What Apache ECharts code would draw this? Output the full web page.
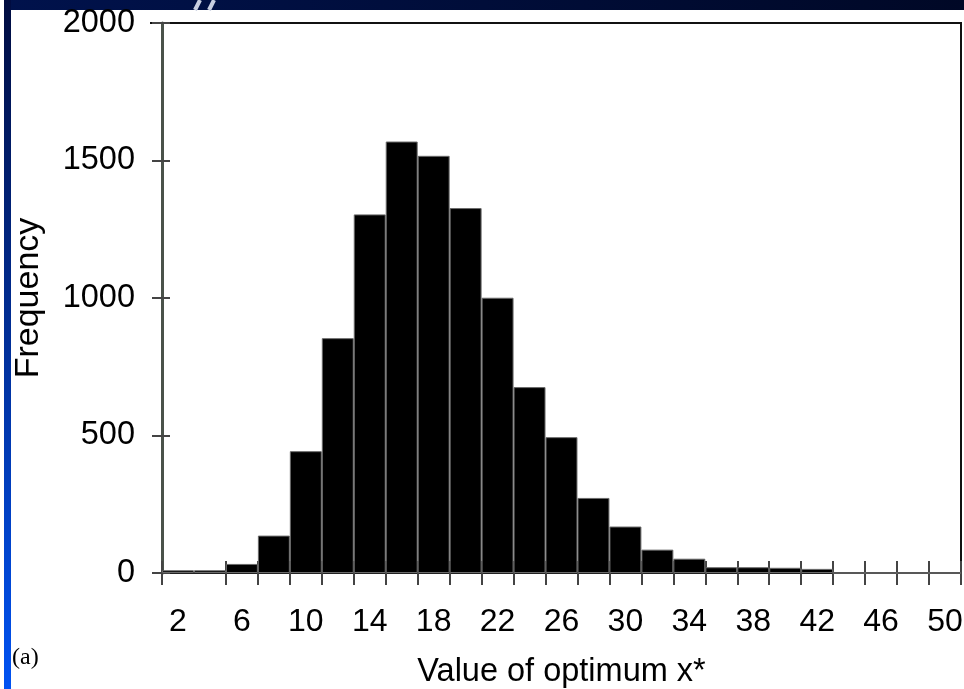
<!DOCTYPE html>
<html>
<head>
<meta charset="utf-8">
<script src="https://cdn.jsdelivr.net/npm/echarts@6/dist/echarts.min.js"></script>
<style>
  html, body { margin: 0; padding: 0; background: #fff; }
  #chart { width: 964px; height: 689px; }
</style>
</head>
<body>
<div id="chart"></div>
<script>
// histogram bins (centre of each 2-wide bin)
var bins = ['2','4','6','8','10','12','14','16','18','20','22','24','26','28','30','32','34','36','38','40','42','44','46','48','50'];
// frequency per bin
var freq = [10, 10, 33, 136, 443, 854, 1304, 1569, 1517, 1327, 1001, 676, 494, 273, 169, 85, 52, 21, 21, 19, 15, 0, 0, 0, 0];
var yTicks = [0, 500, 1000, 1500, 2000];

var font = 'Liberation Sans, Arial, sans-serif';
var chart = echarts.init(document.getElementById('chart'));

// the one tick that is missing in the original (between 2 and 4)
function tickShown(index) { return index !== 1; }

var option = {
    backgroundColor: '#fff',
    animation: false,
    grid: {
        left: 162, right: 3, top: 23, bottom: 116,
        outerBoundsMode: 'none',
        containLabel: false,
        show: true, borderColor: '#111', borderWidth: 2
    },
    xAxis: [{
        type: 'category',
        data: bins,
        boundaryGap: true,
        name: 'Value of optimum x*',
        nameLocation: 'middle',
        nameGap: 83,
        nameTextStyle: { fontFamily: font, fontSize: 32.5, color: '#000' },
        axisLine: { lineStyle: { color: '#222', width: 2 } },
        axisTick: { show: true, length: 12, interval: tickShown, lineStyle: { color: '#444', width: 2 } },
        axisLabel: { interval: 1, margin: 33, fontFamily: font, fontSize: 32, color: '#000' },
        splitLine: { show: false }
    }, {
        type: 'category',
        data: bins,
        position: 'bottom',
        boundaryGap: true,
        axisLine: { show: false },
        axisTick: { show: true, inside: true, length: 12, interval: tickShown, lineStyle: { color: '#444', width: 2 } },
        axisLabel: { show: false },
        splitLine: { show: false }
    }],
    yAxis: [{
        type: 'value',
        min: 0, max: 2000, interval: 500,
        name: 'Frequency',
        nameLocation: 'middle',
        nameGap: 116,
        nameTextStyle: { fontFamily: font, fontSize: 34, color: '#000' },
        axisLine: { show: true, lineStyle: { color: '#4a524a', width: 3 } },
        axisTick: { show: true, length: 10, lineStyle: { color: '#444', width: 2 } },
        axisLabel: { margin: 27, fontFamily: font, fontSize: 32.5, color: '#000',
            formatter: function (v) { return yTicks.indexOf(v) >= 0 ? String(v) : ''; } },
        splitLine: { show: false }
    }, {
        type: 'value',
        position: 'left',
        min: 0, max: 2000, interval: 500,
        axisLine: { show: false },
        axisTick: { show: true, inside: true, length: 8, lineStyle: { color: '#444', width: 2 } },
        axisLabel: { show: false },
        splitLine: { show: false }
    }],
    series: [{
        type: 'bar',
        data: freq,
        barCategoryGap: '0%',
        itemStyle: { color: '#000', borderColor: '#6a6a6a', borderWidth: 1 },
        silent: true
    }],
    graphic: [
        // slide frame: dark bar on top, blue strip on the left
        { type: 'rect', left: 4, top: 0, shape: { width: 960, height: 10 },
          style: { fill: new echarts.graphic.LinearGradient(0, 0, 1, 0, [
              { offset: 0, color: '#00124c' }, { offset: 1, color: '#000826' }]) } },
        { type: 'rect', left: 4, top: 0, shape: { width: 7, height: 689 },
          style: { fill: new echarts.graphic.LinearGradient(0, 0, 0, 1, [
              { offset: 0, color: '#000c40' }, { offset: 1, color: '#0052f2' }]) } },
        { type: 'line', shape: { x1: 195, y1: 10, x2: 200, y2: 0 },
          style: { stroke: '#c8cfe0', lineWidth: 4 } },
        { type: 'line', shape: { x1: 209, y1: 10, x2: 214, y2: 0 },
          style: { stroke: '#c8cfe0', lineWidth: 4 } },
        // top frame line overhangs the y axis a little
        { type: 'line', shape: { x1: 150, y1: 23, x2: 162, y2: 23 },
          style: { stroke: '#111', lineWidth: 2 } },
        { type: 'text', left: 12, top: 646,
          style: { text: '(a)', fontFamily: 'Liberation Serif, Times New Roman, serif', fontSize: 24, fill: '#000' } }
    ]
};

chart.setOption(option);
window.addEventListener('resize', function () { chart.resize(); });
</script>
</body>
</html>
